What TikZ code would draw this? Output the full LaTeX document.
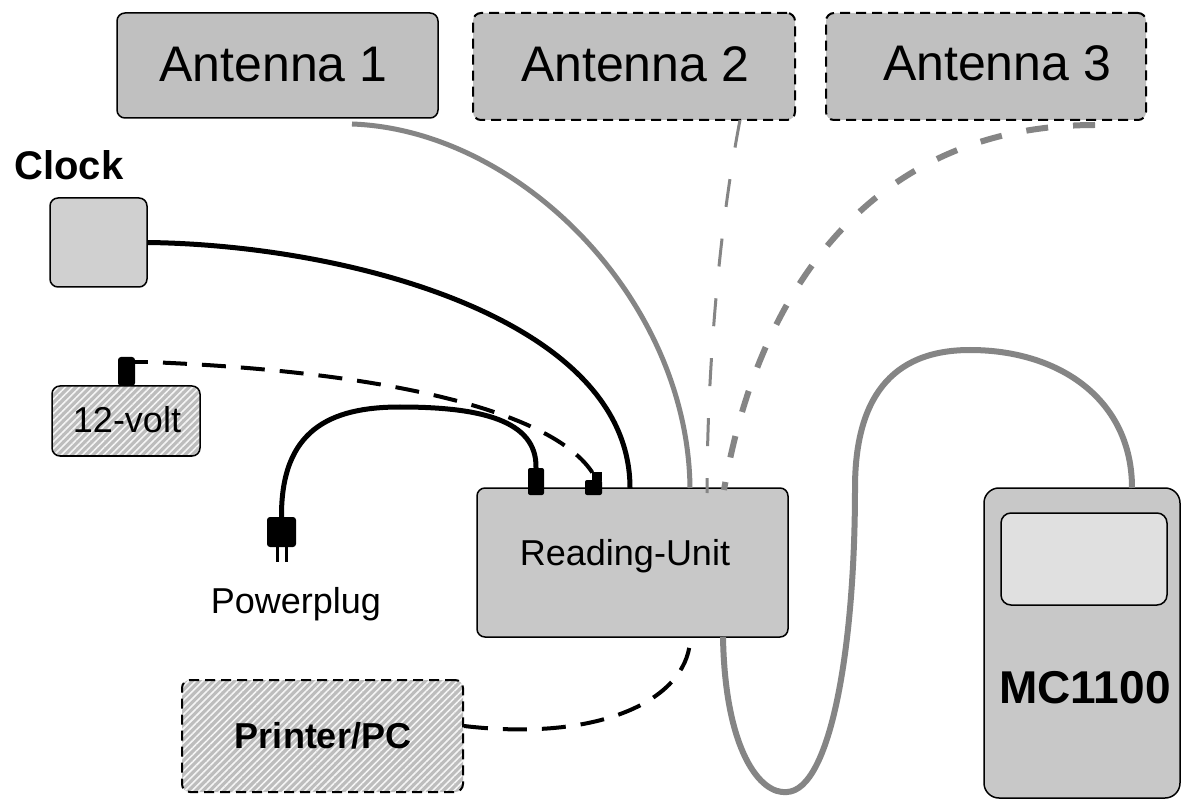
\documentclass[tikz,border=0pt]{standalone}
\usepackage{fontspec}
\setmainfont{Liberation Sans}
\usetikzlibrary{patterns.meta}
\definecolor{antgray}{HTML}{C0C0C0}
\definecolor{unitgray}{HTML}{C8C8C8}
\definecolor{clockgray}{HTML}{D0D0D0}
\definecolor{screengray}{HTML}{E0E0E0}
\definecolor{hatchgray}{HTML}{BDBDBD}
\definecolor{cablegray}{HTML}{858585}
\tikzset{
  box/.style={draw=black, line width=1.5pt, rounded corners=8pt, inner sep=0pt},
  antbox/.style={box, fill=antgray},
  optbox/.style={line width=2pt, dash pattern=on 10pt off 6pt},
  hatchbox/.style={box, preaction={fill=hatchgray},
     pattern={Lines[angle=45,distance=5pt,line width=1.6pt]}, pattern color=white!92!gray},
  unitbox/.style={box, fill=unitgray},
  txt/.style={anchor=base, inner sep=0pt},
  bigtxt/.style={txt, font=\fontsize{50}{60}\selectfont},
  midtxt/.style={txt, font=\fontsize{36}{43}\selectfont},
  plugblk/.style={fill=black, draw=none, rounded corners=2pt},
  blackcable/.style={draw=black, line width=5pt},
  blackdash/.style={draw=black, line width=4pt, dash pattern=on 24pt off 15pt},
  graycable/.style={draw=cablegray, line width=5pt},
  graythin/.style={draw=cablegray, line width=3pt, dash pattern=on 28pt off 32pt},
  graydash/.style={draw=cablegray, line width=6pt, dash pattern=on 22pt off 25pt},
}
\begin{document}
\begin{tikzpicture}[x=1pt,y=-1pt]
\useasboundingbox[fill=white] (0,0) rectangle (1181,799);

% Antennas
\node[antbox, minimum width=321pt, minimum height=105pt] (ant1) at (277.5,65.5) {};
\node[antbox, optbox, minimum width=322pt, minimum height=107pt] (ant2) at (634,66.5) {};
\node[antbox, optbox, minimum width=320pt, minimum height=107pt] (ant3) at (986,66.5) {};
\node[bigtxt] (ant1t) at (273.5,82) {Antenna 1};
\node[bigtxt] (ant2t) at (635,82) {Antenna 2};
\node[bigtxt] (ant3t) at (997,81) {Antenna 3};

% Clock
\node[txt, font=\bfseries\fontsize{40}{48}\selectfont] (clockt) at (69,180) {Clock};
\node[box, fill=clockgray, minimum width=97pt, minimum height=89pt] (clock) at (98.5,242.5) {};

% 12-volt
\node[hatchbox, minimum width=148pt, minimum height=70pt] (volt) at (126,421) {};
\node[midtxt] (voltt) at (127,433) {12-volt};
\fill[rounded corners=3pt] (118,386) -- (118,357) -- (135,357) -- (135,386) -- cycle;
\coordinate (voltport) at (135,362);
\draw[line width=4pt] (voltport) -- ++(13,0) coordinate (voltnub);

% Reading unit
\node[unitbox, minimum width=311pt, minimum height=149pt] (reader) at (632.5,562.5) {};
\node[midtxt] (readert) at (625,565) {Reading-Unit};
\node[plugblk, minimum width=16pt, minimum height=27pt, inner sep=0pt] (rc1) at (536,481.5) {};
\node[plugblk, minimum width=17pt, minimum height=15pt, inner sep=0pt] (rc2) at (593.5,487.5) {};
\fill (592,472) rectangle (602,481);

% Powerplug
\node[plugblk, rounded corners=3pt, minimum width=29pt, minimum height=30pt, inner sep=0pt] (plug) at (281.5,532) {};
\draw[line width=3pt] ([xshift=-4.5pt]plug.south) -- ++(0,15);
\draw[line width=3pt] ([xshift=4.5pt]plug.south) -- ++(0,15);
\node[midtxt] (plugt) at (296,613) {Powerplug};

% Printer
\node[hatchbox, optbox, minimum width=281pt, minimum height=112pt] (printer) at (322.5,736) {};
\node[txt, font=\bfseries\fontsize{36}{43}\selectfont] (printert) at (323,748) {Printer/PC};

% MC1100
\node[unitbox, rounded corners=15pt, minimum width=196pt, minimum height=310pt] (mc) at (1082,643) {};
\node[box, fill=screengray, rounded corners=10pt, minimum width=166pt, minimum height=92pt] (screen) at (1084,559) {};
\node[txt, font=\bfseries\fontsize{46}{55}\selectfont] (mct) at (1085,703) {MC1100};

% Cables
\coordinate (a1p) at (352,124);
\coordinate (a2p) at (740,120);
\coordinate (a3p) at (1095,125);
\coordinate (ra1) at (690,488);
\coordinate (ra2) at (707,493);
\coordinate (ra3) at (724,490);
\coordinate (rclk) at (630,488);
\coordinate (rbot) at (723,637);
\coordinate (rprn) at (690,642);
\coordinate (mctop) at (1132,488);

\path[graycable] (a1p) .. controls (520,130) and (688,300) .. (ra1);
\path[graythin] (a2p) .. controls (715,250) and (707,400) .. (ra2);
\path[graydash] (a3p) .. controls (880,125) and (760,280) .. (ra3);

\path[blackcable] (clock.east) .. controls (350,245) and (630,320) .. (rclk);
\path[blackcable] (plug.north) .. controls (281,430) and (330,407) .. (400,407)
   .. controls (480,407) and (537,420) .. (rc1.north);
\path[blackdash, dash phase=24pt] (voltnub) .. controls (400,372) and (565,415) .. ([xshift=3pt]rc2.north);
\path[blackdash] ([yshift=10pt]printer.east) .. controls (600,742) and (685,700) .. (rprn);

\path[graycable, line width=6pt] (rbot) .. controls (725,750) and (760,795) .. (787,792)
   .. controls (830,790) and (855,650) .. (855,488)
   .. controls (855,400) and (890,350) .. (970,350)
   .. controls (1060,350) and (1132,400) .. (mctop);
\end{tikzpicture}
\end{document}
